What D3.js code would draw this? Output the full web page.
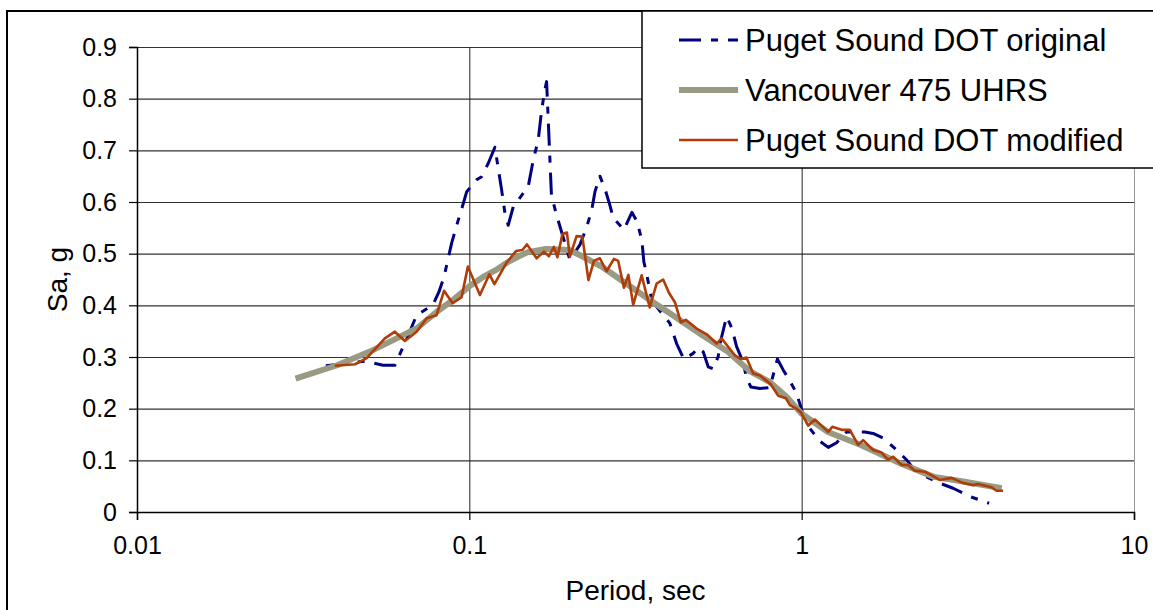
<!DOCTYPE html>
<html>
<head>
<meta charset="utf-8">
<script src="https://cdn.jsdelivr.net/npm/d3@7"></script>
<style>
  body { margin: 0; background: #fff; }
  svg { display: block; font-family: "Liberation Sans", Arial, sans-serif; }
</style>
</head>
<body>
<div id="chart"></div>
<script>
/* Response spectra: Puget Sound DOT vs Vancouver 475 UHRS */

// [period (s), Sa (g)]
const original = [[0.0370,0.283],[0.0485,0.292],[0.0550,0.284],[0.0597,0.284],[0.0654,0.341],[0.0694,0.381],
  [0.0751,0.395],[0.0777,0.401],[0.0810,0.426],[0.0839,0.455],[0.0885,0.521],[0.0926,0.565],[0.0959,0.597],
  [0.0982,0.620],[0.1052,0.643],[0.1089,0.649],[0.1140,0.675],[0.1194,0.706],[0.1251,0.623],[0.1280,0.578],
  [0.1309,0.555],[0.1356,0.591],[0.1453,0.617],[0.1504,0.630],[0.1557,0.681],[0.1612,0.720],[0.1650,0.778],
  [0.1688,0.817],[0.1708,0.833],[0.1766,0.614],[0.1822,0.579],[0.2007,0.488],[0.2151,0.517],[0.2254,0.551],
  [0.2334,0.584],[0.2388,0.620],[0.2471,0.650],[0.2558,0.626],[0.2648,0.594],[0.2710,0.569],[0.2839,0.555],
  [0.2918,0.546],[0.3084,0.580],[0.3193,0.563],[0.3305,0.526],[0.3351,0.484],[0.3415,0.461],[0.3535,0.412],
  [0.3642,0.399],[0.4014,0.365],[0.4204,0.326],[0.4422,0.296],[0.4717,0.307],[0.4883,0.318],[0.5055,0.310],
  [0.5233,0.281],[0.5417,0.277],[0.5608,0.301],[0.5674,0.325],[0.5943,0.378],[0.6166,0.356],[0.6371,0.320],
  [0.6668,0.290],[0.6827,0.259],[0.7034,0.242],[0.749,0.239],[0.8024,0.241],[0.8452,0.296],[0.8798,0.275],
  [0.9153,0.257],[0.965,0.230],[1.005,0.193],[1.058,0.162],[1.134,0.137],[1.202,0.125],[1.274,0.134],
  [1.365,0.155],[1.549,0.155],[1.641,0.152],[1.759,0.143],[1.907,0.123],[2.069,0.101],[2.165,0.085],
  [2.376,0.068],[2.574,0.057],[2.856,0.046],[3.206,0.030],[3.665,0.017]];

const uhrs = [[0.03,0.258],[0.04,0.284],[0.05,0.31],[0.06,0.335],[0.07,0.357],[0.08,0.388],[0.09,0.412],
  [0.1,0.437],[0.11,0.455],[0.12,0.468],[0.13,0.483],[0.14,0.494],[0.15,0.503],[0.17,0.509],[0.2,0.507],
  [0.22,0.494],[0.25,0.475],[0.3,0.44],[0.35,0.41],[0.4,0.385],[0.5,0.343],[0.6,0.31],[0.7,0.272],
  [0.8,0.252],[0.9,0.223],[1.0,0.19],[1.2,0.155],[1.5,0.13],[2.0,0.093],[2.5,0.068],[3.0,0.06],[4.0,0.046]];

const modified = [[0.0394,0.283],[0.0453,0.286],[0.0491,0.298],[0.0557,0.336],[0.0597,0.349],[0.0640,0.331],
  [0.0694,0.349],[0.0744,0.375],[0.0797,0.381],[0.0839,0.428],[0.0891,0.404],[0.0948,0.416],[0.0990,0.475],
  [0.1076,0.420],[0.1149,0.460],[0.1190,0.441],[0.1293,0.482],[0.1381,0.505],[0.1444,0.507],[0.1491,0.518],
  [0.1594,0.491],[0.1677,0.504],[0.1736,0.495],[0.1797,0.513],[0.1841,0.493],[0.1906,0.538],[0.1966,0.541],
  [0.2007,0.494],[0.2102,0.534],[0.2188,0.533],[0.2282,0.449],[0.2371,0.486],[0.2471,0.491],[0.2588,0.466],
  [0.2723,0.490],[0.2805,0.486],[0.2918,0.434],[0.3010,0.459],[0.3112,0.401],[0.330,0.458],[0.349,0.396],
  [0.366,0.442],[0.383,0.450],[0.399,0.424],[0.4155,0.406],[0.433,0.367],[0.448,0.372],[0.483,0.355],
  [0.518,0.344],[0.555,0.326],[0.574,0.336],[0.630,0.303],[0.656,0.296],[0.682,0.299],[0.715,0.268],
  [0.749,0.264],[0.808,0.247],[0.850,0.225],[0.897,0.220],[0.922,0.207],[0.965,0.200],[0.995,0.193],
  [1.046,0.167],[1.096,0.179],[1.202,0.155],[1.237,0.165],[1.318,0.159],[1.396,0.159],[1.479,0.130],
  [1.531,0.139],[1.641,0.120],[1.739,0.115],[1.821,0.101],[1.885,0.107],[1.998,0.091],[2.091,0.091],
  [2.190,0.080],[2.348,0.078],[2.604,0.062],[2.825,0.066],[3.062,0.056],[3.281,0.052],[3.396,0.054],
  [3.726,0.048],[3.857,0.041],[4.038,0.041]];

const xTicks = [0.01, 0.1, 1, 10];
const yTicks = [0, 0.1, 0.2, 0.3, 0.4, 0.5, 0.6, 0.7, 0.8, 0.9];
const seriesNames = ["Puget Sound DOT original", "Vancouver 475 UHRS", "Puget Sound DOT modified"];

const width = 1153, height = 610,
      margin = ({ top: 47, right: 19, bottom: 98, left: 137 });

const svg = d3.select("#chart")
  .append("svg")
  .attr("width", width)
  .attr("height", height);

// outer chart border (runs off the right/bottom of the picture)
svg.append("rect")
  .attr("x", 7).attr("y", 11)
  .attr("width", 1200).attr("height", 700)
  .attr("fill", "white")
  .attr("stroke", "black")
  .attr("stroke-width", 2);

const x = d3.scaleLog()
  .domain([0.01, 10])
  .range([margin.left, width - margin.right]);

const y = d3.scaleLinear()
  .domain([0, 0.9])
  .range([height - margin.bottom, margin.top]);

// horizontal grid
svg.append("g")
  .attr("transform", `translate(${margin.left},0)`)
  .call(d3.axisLeft(y).tickValues(yTicks).tickSize(-(x(10) - x(0.01))).tickFormat(""))
  .call(g => g.select(".domain").remove())
  .call(g => g.selectAll("line").attr("stroke", "#333").attr("stroke-width", 1.2));

// vertical grid
svg.append("g")
  .attr("transform", `translate(0,${y(0)})`)
  .call(d3.axisBottom(x).tickValues(xTicks.slice(1)).tickSize(-(y(0) - y(0.9))).tickFormat(""))
  .call(g => g.select(".domain").remove())
  .call(g => g.selectAll("line").attr("stroke", "#222").attr("stroke-width", 1))
  .call(g => g.selectAll(".tick").filter(d => d === 10).select("line").attr("stroke", "#999"));

// y axis
svg.append("g")
  .attr("transform", `translate(${margin.left},0)`)
  .call(d3.axisLeft(y).tickValues(yTicks).tickSize(8).tickPadding(12)
    .tickFormat(d => d === 0 ? "0" : d3.format(".1f")(d)))
  .call(g => g.select(".domain").attr("stroke", "black").attr("stroke-width", 1.5))
  .call(g => g.selectAll("line").attr("stroke", "black").attr("stroke-width", 1.2))
  .call(g => g.selectAll("text").attr("font-size", 25).attr("fill", "black")
    .attr("font-family", "Liberation Sans, Arial, sans-serif"));

// x axis
svg.append("g")
  .attr("transform", `translate(0,${y(0)})`)
  .call(d3.axisBottom(x).tickValues(xTicks).tickSize(8).tickPadding(16)
    .tickFormat(d => String(d)))
  .call(g => g.select(".domain").attr("stroke", "black").attr("stroke-width", 1.5))
  .call(g => g.selectAll("line").attr("stroke", "black").attr("stroke-width", 1.2))
  .call(g => g.selectAll("text").attr("font-size", 25).attr("fill", "black")
    .attr("font-family", "Liberation Sans, Arial, sans-serif"));

// axis titles
svg.append("text")
  .attr("x", (x(0.01) + x(10)) / 2)
  .attr("y", 600)
  .attr("text-anchor", "middle")
  .attr("font-size", 28)
  .text("Period, sec");

svg.append("text")
  .attr("transform", `translate(67,${(y(0) + y(0.9)) / 2}) rotate(-90)`)
  .attr("text-anchor", "middle")
  .attr("font-size", 28)
  .text("Sa, g");

const line = d3.line()
  .x(d => x(d[0]))
  .y(d => y(d[1]));

const styles = [
  { color: "#000080", width: 3, dash: "22,10,7,10" },
  { color: "#9a9a82", width: 6, dash: null },
  { color: "#b03c08", width: 2.6, dash: null }
];

[original, uhrs, modified].forEach((data, i) => {
  svg.append("path")
    .datum(data)
    .attr("fill", "none")
    .attr("stroke", styles[i].color)
    .attr("stroke-width", styles[i].width)
    .attr("stroke-dasharray", styles[i].dash)
    .attr("stroke-linejoin", "round")
    .attr("d", line);
});

// legend
const legend = svg.append("g");

legend.append("rect")
  .attr("x", 642).attr("y", 11)
  .attr("width", 600).attr("height", 157)
  .attr("fill", "white")
  .attr("stroke", "black")
  .attr("stroke-width", 1.5);

const item = legend.selectAll(".item")
  .data(seriesNames)
  .join("g")
  .attr("class", "item")
  .attr("transform", (d, i) => `translate(0,${40 + i * 50})`);

item.append("line")
  .attr("x1", 679).attr("x2", 738)
  .attr("stroke", (d, i) => styles[i].color)
  .attr("stroke-width", (d, i) => styles[i].width)
  .attr("stroke-dasharray", (d, i) => styles[i].dash);

item.append("text")
  .text(d => d)
  .attr("x", 745)
  .attr("dy", "0.35em")
  .attr("font-size", 31)
  .attr("fill", "black");
</script>
</body>
</html>
